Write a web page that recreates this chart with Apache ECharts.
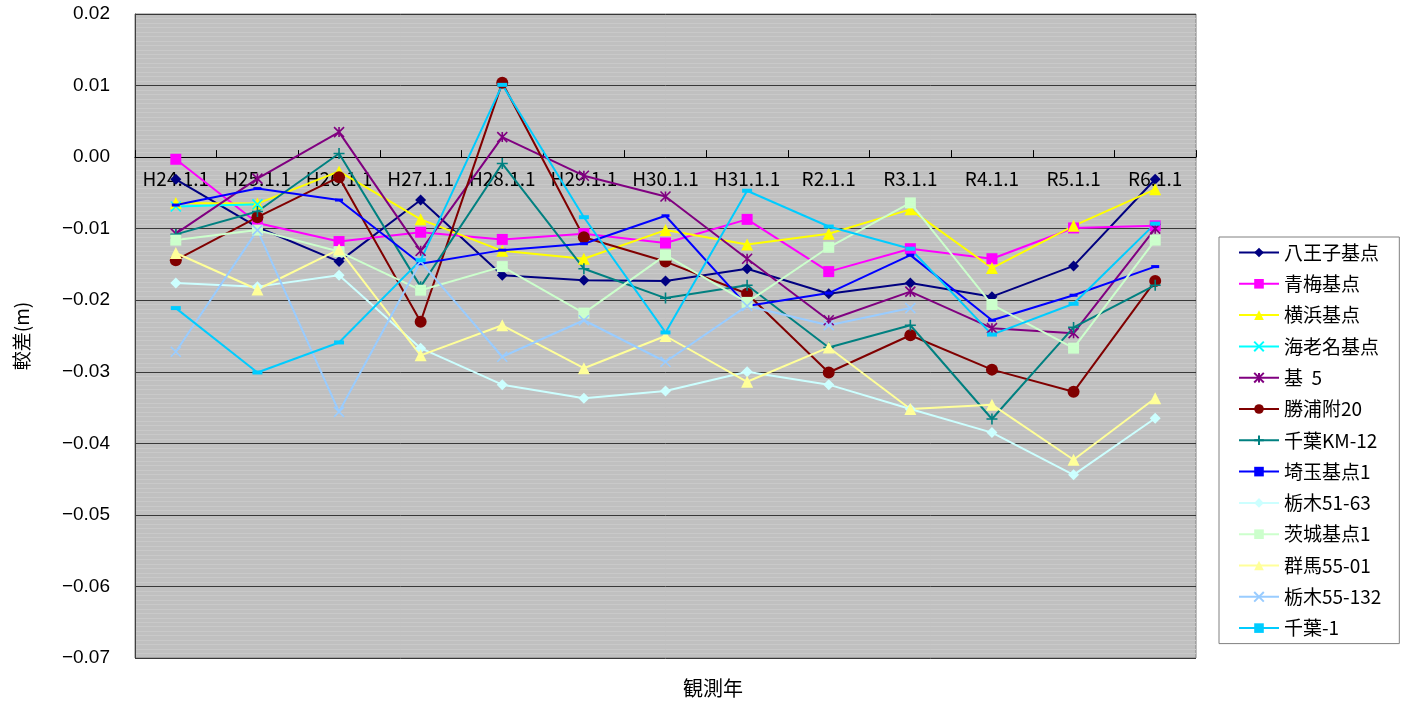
<!DOCTYPE html>
<html><head><meta charset="utf-8">
<script src="https://cdn.jsdelivr.net/npm/echarts@6/dist/echarts.min.js"></script>
<style>html,body{margin:0;padding:0;background:#fff}#c{width:1405px;height:709px}</style>
</head><body><div id="c"></div>
<script>
const categories = ['H24.1.1','H25.1.1','H26.1.1','H27.1.1','H28.1.1','H29.1.1','H30.1.1','H31.1.1','R2.1.1','R3.1.1','R4.1.1','R5.1.1','R6.1.1'];
const yTicks = [-0.07,-0.06,-0.05,-0.04,-0.03,-0.02,-0.01,0.00,0.01,0.02];

const hachioji  = [-0.0031,-0.0098,-0.0146,-0.0060,-0.0165,-0.0172,-0.0173,-0.0156,-0.0191,-0.0176,-0.0195,-0.0152,-0.0031];
const ome       = [-0.0003,-0.0092,-0.0118,-0.0105,-0.0115,-0.0107,-0.0120,-0.0087,-0.0160,-0.0128,-0.0142,-0.0099,-0.0096];
const yokohama  = [-0.0064,-0.0065,-0.0020,-0.0087,-0.0131,-0.0142,-0.0102,-0.0122,-0.0107,-0.0073,-0.0155,-0.0096,-0.0045];
const ebina     = [-0.0069,-0.0066,null,null,null,null,null,null,null,null,null,null,null];
const ki5       = [-0.0107,-0.0030,0.0035,-0.0131,0.0028,-0.0026,-0.0055,-0.0142,-0.0228,-0.0188,-0.0239,-0.0246,-0.0100];
const katsuura  = [-0.0144,-0.0084,-0.0028,-0.0230,0.0104,-0.0112,-0.0146,-0.0191,-0.0301,-0.0249,-0.0297,-0.0328,-0.0173];
const chibaKM12 = [-0.0108,-0.0076,0.0005,-0.0181,-0.0009,-0.0156,-0.0197,-0.0179,-0.0266,-0.0235,-0.0366,-0.0238,-0.0179];
const saitama1  = [-0.0067,-0.0044,-0.0060,-0.0149,-0.0130,-0.0121,-0.0082,-0.0208,-0.0190,-0.0137,-0.0228,-0.0193,-0.0153];
const tochigi5163 = [-0.0176,-0.0181,-0.0165,-0.0267,-0.0318,-0.0337,-0.0327,-0.0300,-0.0318,-0.0352,-0.0385,-0.0444,-0.0365];
const ibaraki1  = [-0.0116,-0.0102,-0.0132,-0.0186,-0.0153,-0.0218,-0.0137,-0.0203,-0.0126,-0.0064,-0.0206,-0.0267,-0.0116];
const gunma5501 = [-0.0134,-0.0185,-0.0129,-0.0277,-0.0235,-0.0295,-0.0250,-0.0314,-0.0266,-0.0352,-0.0346,-0.0423,-0.0337];
const tochigi55132 = [-0.0272,-0.0102,-0.0356,-0.0146,-0.0279,-0.0228,-0.0286,-0.0208,-0.0235,-0.0211,null,null,null];
const chiba1    = [-0.0211,-0.0301,-0.0259,-0.0144,0.0101,-0.0084,-0.0245,-0.0047,-0.0097,-0.0128,-0.0248,-0.0205,-0.0093];

const seriesNames = ['八王子基点','青梅基点','横浜基点','海老名基点','基  5','勝浦附20','千葉KM-12','埼玉基点1','栃木51-63','茨城基点1','群馬55-01','栃木55-132','千葉-1'];
const seriesData = [hachioji,ome,yokohama,ebina,ki5,katsuura,chibaKM12,saitama1,tochigi5163,ibaraki1,gunma5501,tochigi55132,chiba1];
const seriesColors = ['#000080','#FF00FF','#FFFF00','#00FFFF','#800080','#800000','#008080','#0000FF','#CCFFFF','#CCFFCC','#FFFF99','#99CCFF','#00CCFF'];

const X = 'path://M0,0L10,10M10,0L0,10';
const AST = 'path://M0,0L10,10M10,0L0,10M5,0L5,10';
const PLUS = 'path://M5,0L5,10M0,5L10,5';
const styles = [
  {symbol:'diamond', size:11},
  {symbol:'rect', size:11},
  {symbol:'triangle', size:12},
  {symbol:X, size:10, stroke:true},
  {symbol:AST, size:10, stroke:true},
  {symbol:'circle', size:12},
  {symbol:PLUS, size:11, stroke:true},
  {symbol:'rect', size:[8,3]},
  {symbol:'diamond', size:11},
  {symbol:'rect', size:11},
  {symbol:'triangle', size:12},
  {symbol:X, size:10, stroke:true},
  {symbol:'rect', size:[10,4]}
];

const font = '"Noto Sans CJK JP", "Noto Sans", sans-serif';
const chart = echarts.init(document.getElementById('c'));
const series = seriesNames.map((n,i)=>({
  name:n, type:'line', data:seriesData[i],
  symbol:styles[i].symbol, symbolSize:styles[i].size,
  connectNulls:false, animation:false,
  lineStyle:{color:seriesColors[i], width:2},
  itemStyle: styles[i].stroke ? {color:seriesColors[i], borderColor:seriesColors[i], borderWidth:1.6} : {color:seriesColors[i], borderWidth:0},
  emphasis:{disabled:true}
}));

const gridTop = 14, gridBottom = 51, H = 709;
const plotH = H - gridTop - gridBottom;
const zeroFromBottom = plotH * (0 - (-0.07)) / (0.02 - (-0.07));

chart.setOption({
  backgroundColor:'#ffffff',
  animation:false,
  textStyle:{fontFamily:font},
  grid:{left:135, right:209, top:gridTop, bottom:gridBottom, show:true, backgroundColor:'#c0c0c0', borderColor:'#808080', borderWidth:1, containLabel:false},
  xAxis:{
    type:'category', data:categories, boundaryGap:true,
    offset: -zeroFromBottom,
    axisLine:{show:true, onZero:false, lineStyle:{color:'#000', width:1}},
    axisTick:{show:true, inside:true, length:7, lineStyle:{color:'#000'}},
    axisLabel:{color:'#000', fontSize:19, fontFamily:font, margin:12, interval:0},
    splitLine:{show:false}
  },
  yAxis:{
    type:'value', min:-0.07, max:0.02, interval:0.01,
    name:'較差(m)', nameLocation:'middle', nameRotate:90, nameGap:104,
    nameTextStyle:{color:'#000', fontSize:19, fontFamily:font},
    axisLine:{show:true, lineStyle:{color:'#404040', width:1}},
    axisTick:{show:false},
    axisLabel:{color:'#000', fontSize:19, fontFamily:'"Liberation Sans", Arial, sans-serif', margin:25,
      formatter:v=>{const r=Math.round(v*100)/100; return (r<0?'−':'')+Math.abs(r).toFixed(2);}},
    splitLine:{show:true, lineStyle:{color:'#383838', width:1}},
    minorTick:{show:false, splitNumber:16},
    minorSplitLine:{show:true, lineStyle:{color:'#c9c9c9', width:1}}
  },
  legend:{
    orient:'vertical', left:1219, top:237,
    backgroundColor:'#ffffff', borderColor:'#808080', borderWidth:1,
    padding:[6,18,6,19], itemGap:12.3, itemWidth:40, itemHeight:12,
    textStyle:{color:'#000', fontSize:19, fontFamily:font},
    data:seriesNames
  },
  graphic:[{type:'text', left:683, top:678, style:{text:'観測年', fill:'#000', font:'20px '+font}}],
  series:series
});
</script></body></html>
